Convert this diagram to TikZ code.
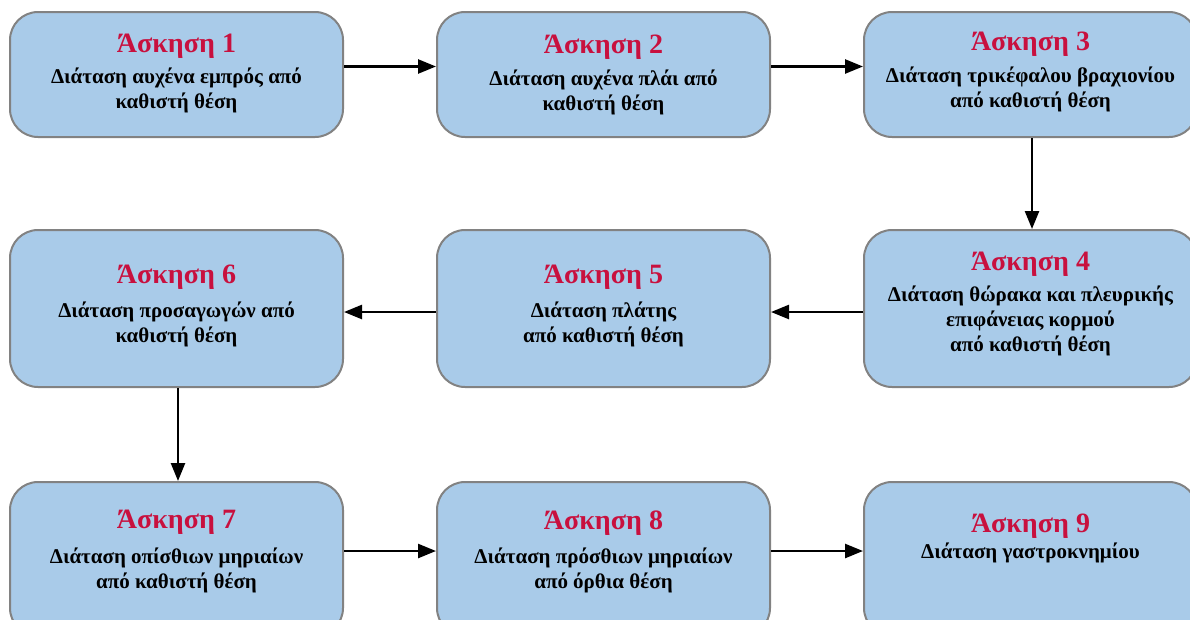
\documentclass[tikz,border=0pt]{standalone}
\usepackage{fontspec}
\setmainfont{Liberation Serif}
\usetikzlibrary{arrows.meta,positioning}
\definecolor{boxblue}{HTML}{A9CBE9}
\definecolor{boxgray}{HTML}{828282}
\definecolor{titlered}{HTML}{C8103E}

\begin{document}
\begin{tikzpicture}[x=1pt,y=-1pt,
    exbox/.style={shape=rectangle,draw=boxgray,line width=2pt,fill=boxblue,
      rounded corners=28pt,minimum width=333pt,inner sep=0pt},
    extitle/.style={anchor=base,text=titlered,inner sep=0pt,
      font=\fontsize{28}{32}\selectfont\bfseries},
    exdesc/.style={anchor=base,align=center,inner sep=0pt,
      font=\fontsize{21}{25}\selectfont\bfseries},
    flow/.style={line width=2.5pt,-{Triangle[length=18pt,width=14pt]}}]
    \useasboundingbox (0,0) rectangle (1190,619);
    \clip (0,0) rectangle (1190,619);

    % boxes
    \node[exbox,minimum height=125pt] (b1) at (176.5,74.5) {};
    \node[exbox,minimum height=125pt] (b2) at (603.5,74.5) {};
    \node[exbox,minimum height=125pt] (b3) at (1030.5,74.5) {};
    \node[exbox,minimum height=157pt] (b4) at (1030.5,308.5) {};
    \node[exbox,minimum height=157pt] (b5) at (603.5,308.5) {};
    \node[exbox,minimum height=157pt] (b6) at (176.5,308.5) {};
    \node[exbox,minimum height=154pt] (b7) at (176.5,559) {};
    \node[exbox,minimum height=154pt] (b8) at (603.5,559) {};
    \node[exbox,minimum height=154pt] (b9) at (1030.5,559) {};

    % titles
    \node[extitle] (t1) at (176.5,52) {Άσκηση 1};
    \node[extitle] (t2) at (603.5,53) {Άσκηση 2};
    \node[extitle] (t3) at (1030.5,50) {Άσκηση 3};
    \node[extitle] (t4) at (1030.5,270) {Άσκηση 4};
    \node[extitle] (t5) at (603.5,283) {Άσκηση 5};
    \node[extitle] (t6) at (176.5,283) {Άσκηση 6};
    \node[extitle] (t7) at (176.5,528) {Άσκηση 7};
    \node[extitle] (t8) at (603.5,529) {Άσκηση 8};
    \node[extitle] (t9) at (1030.5,532) {Άσκηση 9};

    % descriptions (base = last line)
    \node[exdesc] (d1) at (176.5,108) {Διάταση αυχένα εμπρός από\\καθιστή θέση};
    \node[exdesc] (d2) at (603.5,110) {Διάταση αυχένα πλάι από\\καθιστή θέση};
    \node[exdesc] (d3) at (1030.5,107) {Διάταση τρικέφαλου βραχιονίου\\από καθιστή θέση};
    \node[exdesc] (d4) at (1030.5,351) {Διάταση θώρακα και πλευρικής\\επιφάνειας κορμού\\από καθιστή θέση};
    \node[exdesc] (d5) at (603.5,342) {Διάταση πλάτης\\από καθιστή θέση};
    \node[exdesc] (d6) at (176.5,342) {Διάταση προσαγωγών από\\καθιστή θέση};
    \node[exdesc] (d7) at (176.5,588) {Διάταση οπίσθιων μηριαίων\\από καθιστή θέση};
    \node[exdesc] (d8) at (603.5,588) {Διάταση πρόσθιων μηριαίων\\από όρθια θέση};
    \node[exdesc] (d9) at (1030.5,558) {Διάταση γαστροκνημίου};

    % connectors
    \path[flow] ([yshift=8pt]b1.east) edge ([yshift=8pt]b2.west);
    \path[flow] ([yshift=8pt]b2.east) edge ([yshift=8pt]b3.west);
    \path[flow] ([xshift=1.5pt]b3.south) edge ([xshift=1.5pt]b4.north);
    \path[flow] ([yshift=-3.5pt]b4.west) edge ([yshift=-3.5pt]b5.east);
    \path[flow] ([yshift=-3.5pt]b5.west) edge ([yshift=-3.5pt]b6.east);
    \path[flow] ([xshift=1.5pt]b6.south) edge ([xshift=1.5pt]b7.north);
    \path[flow] ([yshift=8pt]b7.east) edge ([yshift=8pt]b8.west);
    \path[flow] ([yshift=8pt]b8.east) edge ([yshift=8pt]b9.west);
\end{tikzpicture}
\end{document}
